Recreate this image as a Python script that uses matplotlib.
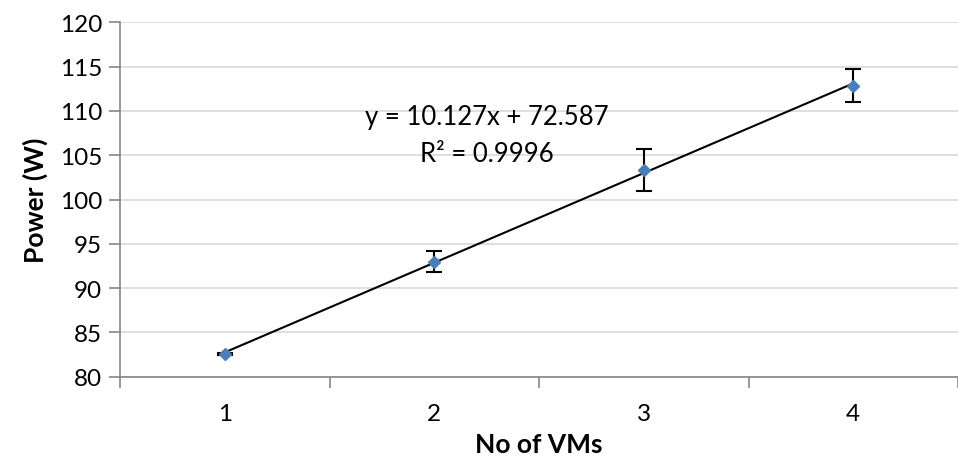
import matplotlib
matplotlib.use("Agg")
import matplotlib.pyplot as plt
import numpy as np

vms = [1, 2, 3, 4]
power = [82.55, 93.0, 103.3, 112.85]
err_low = [0.1, 1.2, 2.35, 1.8]
err_high = [0.1, 1.2, 2.35, 1.9]
x_ticklabels = ["1", "2", "3", "4"]
eq_text = "y = 10.127x + 72.587"
r2_text = "R² = 0.9996"

plt.rcParams['font.family'] = ['Lato', 'DejaVu Sans']

fig = plt.figure(figsize=(9.58, 4.64), dpi=100)
ax = fig.add_axes([120/958, 1-377.7/464, 1-120/958, (377.7-23.3)/464])

ax.set_xlim(0.5, 0.5 + 838/210.7)
ax.set_ylim(80, 120)
ax.set_yticks(np.arange(80, 121, 5))
ax.yaxis.grid(True, color='#d9d9d9', linewidth=1.2)
ax.set_axisbelow(True)

# trendline
coef = np.polyfit(vms, power, 1)
xs = np.array([vms[0], vms[-1]])
ax.plot(xs, np.polyval(coef, xs), color='black', linewidth=1.5, zorder=3)

ax.errorbar(vms, power, yerr=[err_low, err_high], fmt='none', ecolor='black',
            elinewidth=1.5, capsize=5.5, capthick=1.5, zorder=4)
ax.plot(vms, power, linestyle='none', marker='D', markersize=6.5,
        color='#4a7ebb', markeredgecolor='#4a7ebb', zorder=5)

ax.set_xticks(vms)
ax.set_xticklabels(x_ticklabels, fontsize=17.5)
ax.set_xticks([0.5, 1.5, 2.5, 3.5, 4.5], minor=True)
ax.tick_params(axis='x', which='major', length=0, pad=19)
ax.tick_params(axis='x', which='minor', length=8, width=1.2, color='#868686', direction='out')
ax.tick_params(axis='y', which='major', length=8, width=1.2, color='#868686', direction='out',
               labelsize=17.5, pad=5)

for s in ['top', 'right']:
    ax.spines[s].set_visible(False)
for s in ['left', 'bottom']:
    ax.spines[s].set_color('#868686')
    ax.spines[s].set_linewidth(1.2)

ax.set_xlabel("No of VMs", fontsize=19, fontweight='bold', labelpad=6)
ax.set_ylabel("Power (W)", fontsize=19, fontweight='bold', labelpad=8)

ax.text(487, 118, eq_text, transform=None, fontsize=18.5, ha='center', va='center')
ax.text(487, 155, r2_text, transform=None, fontsize=18.5, ha='center', va='center')

for t in ax.texts:
    x, y = t.get_position()
    t.set_transform(fig.transFigure)
    t.set_position((x/958, 1-y/464))

fig.savefig("out.png", dpi=100)
